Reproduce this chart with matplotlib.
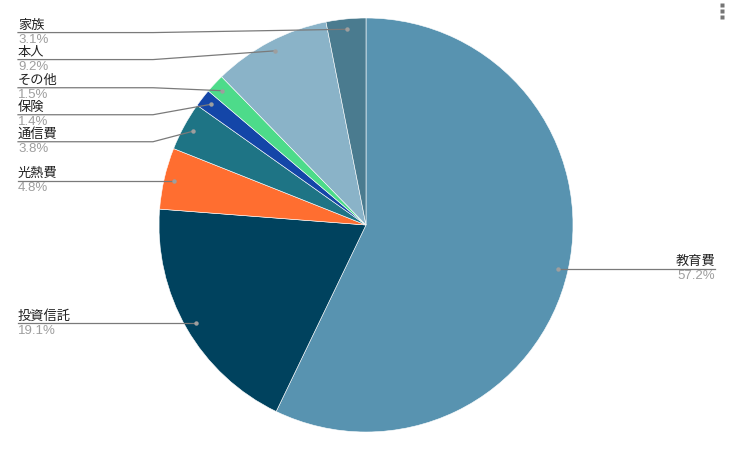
import numpy as np
import matplotlib.pyplot as plt

plt.rcParams['font.family'] = ['Liberation Sans', 'Noto Sans CJK JP']

labels = ['教育費', '投資信託', '光熱費', '通信費', '保険', 'その他', '本人', '家族']
values = [57.2, 19.1, 4.8, 3.8, 1.4, 1.5, 9.2, 3.1]
colors = ['#5893b0', '#00425e', '#ff6e30', '#1e7485', '#1446a8', '#4ddb8a', '#8ab3c8', '#4a7b8f']

W, H = 734, 452
cx, cy, r = 366, 226, 207   # pixel layout of the pie

fig = plt.figure(figsize=(W / 100, H / 100), dpi=100)
ax = fig.add_axes([0, 0, 1, 1])
ax.pie(values, colors=colors, startangle=90, counterclock=False,
       center=(cx, H - cy), radius=r,
       wedgeprops=dict(edgecolor='white', linewidth=0.4))
ax.set_xlim(0, W)
ax.set_ylim(0, H)
ax.set_aspect('equal')
ax.axis('off')

total = sum(values)
cum = np.cumsum([0] + values[:-1])
theta = np.deg2rad(360 * (cum + np.array(values) / 2) / total)
dot_x = cx + 0.95 * r * np.sin(theta)
dot_y = cy - 0.95 * r * np.cos(theta)   # pixel y (down)

# place left labels, spreading overlapping ones
gap = 27
left = [i for i in range(len(values)) if np.sin(theta[i]) < 0]
left.sort(key=lambda i: dot_y[i])
pos = {i: dot_y[i] for i in left}
groups = [[i] for i in left]
changed = True
while changed:
    changed = False
    for k in range(len(groups) - 1):
        a, b = groups[k], groups[k + 1]
        if pos[b[0]] - pos[a[-1]] < gap:
            g = a + b
            mid = np.mean([dot_y[i] for i in g]) + 6
            start = mid - gap * (len(g) - 1) / 2
            for n, i in enumerate(g):
                pos[i] = start + n * gap
            groups[k:k + 2] = [g]
            changed = True
            break
for i in range(len(values)):
    if i not in pos:
        pos[i] = dot_y[i]

line_c = '#7a7a7a'
for i in range(len(values)):
    ly = pos[i]
    if np.sin(theta[i]) < 0:
        xs = [18, 153, dot_x[i]]
        tx, ha = 18, 'left'
    else:
        xs = [715, 579, dot_x[i]]
        tx, ha = 715, 'right'
    ys = [ly, ly, dot_y[i]]
    ax.plot(xs, [H - y for y in ys], color=line_c, lw=0.9, zorder=3)
    ax.plot(dot_x[i], H - dot_y[i], 'o', ms=3.2, color='#9e9e9e', mec='none', zorder=4)
    ax.text(tx, H - ly + 1.5, labels[i], ha=ha, va='bottom', fontsize=9.5, color='#222222')
    ax.text(tx, H - ly - 0.5, f'{values[i]:.1f}%', ha=ha, va='top', fontsize=9.5, color='#9e9e9e')

# menu dots
for y in (6, 12, 18):
    ax.plot(722, H - y, 's', ms=2.6, color='#757575', mec='none')

fig.savefig('out.png', dpi=100)
